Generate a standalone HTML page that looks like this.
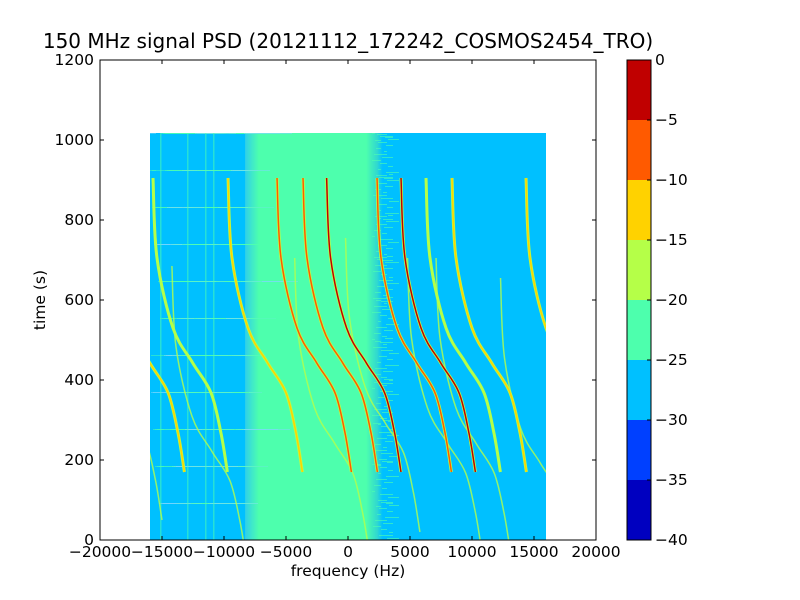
<!DOCTYPE html>
<html><head><meta charset="utf-8"><style>
html,body{margin:0;background:#fff;overflow:hidden;width:800px;height:600px;}
svg{display:block;font-family:"DejaVu Sans","Liberation Sans",sans-serif;}
</style></head><body>
<svg id="c" width="800" height="600" viewBox="0 0 800 600">
<text x="348" y="48" font-size="20" text-anchor="middle">150 MHz signal PSD (20121112_172242_COSMOS2454_TRO)</text>
<defs>
<clipPath id="dc"><rect x="150" y="133" width="396" height="407"/></clipPath>
<linearGradient id="band" x1="0" x2="1" y1="0" y2="0">
<stop offset="0" stop-color="#30d0e8"/>
<stop offset="0.10" stop-color="#4dffad"/>
<stop offset="0.88" stop-color="#4dffad"/>
<stop offset="0.96" stop-color="#30d8d0"/>
<stop offset="1" stop-color="#00c0ff"/>
</linearGradient>
</defs>
<g id="data" clip-path="url(#dc)"></g>
<g id="axes"></g>
</svg>
<script>
// ---- data ----
const xTicks=[-20000,-15000,-10000,-5000,0,5000,10000,15000,20000];
const yTicks=[0,200,400,600,800,1000,1200];
const cbLevels=[-40,-35,-30,-25,-20,-15,-10,-5,0];
const cbColors=["#0000c0","#0040ff","#00c0ff","#4dffad","#b5ff48","#ffd200","#ff5a00","#c00000"];
const dataFreqRange=[-16000,16000];
const dataTimeRange=[0,1018];
const bandFreqRange=[-8300,2800];
// shared track shape: frequency offset (Hz) vs time (s)
const profileDf=[0,320,1610,3220,4680,5480,6000];
const profileTime=[905,705,530,442,368,268,170];
const trackTopFreq=[-19190,-15726,-9677,-5725,-3629,-1725,2339,4274,6290,8387,14355];
const trackLevel=[-15,-18,-15,-10,-10,-5,-10,-5,-18,-15,-15];
const faintTopFreq=[-21000,-14200,-4300,-200,4800,7100,12300];
const faintShift=[-120,-220,-200,-150,-200,-200,-250];
const faintLevel=[-20,-20,-18,-18,-20,-20,-20];

// ---- axes functions ----
const X=f=>100+(f+20000)/40000*496;
const Y=t=>540-t/1200*480;
const CY=v=>540-(v+40)/40*480;
const NS="http://www.w3.org/2000/svg";
function mk(tag,attrs,parent){const e=document.createElementNS(NS,tag);for(const k in attrs)e.setAttribute(k,attrs[k]);parent.appendChild(e);return e;}
function col(v){for(let i=0;i<8;i++){if(v<cbLevels[i+1])return cbColors[i];}return cbColors[7];}
const g=document.getElementById('data');
const ax=document.getElementById('axes');

let bg=mk('rect',{x:X(dataFreqRange[0]),y:Y(dataTimeRange[1]),width:X(dataFreqRange[1])-X(dataFreqRange[0]),height:Y(0)-Y(dataTimeRange[1]),fill:cbColors[2]},g);


let band=mk('rect',{x:X(bandFreqRange[0]),y:Y(dataTimeRange[1]),width:X(bandFreqRange[1])-X(bandFreqRange[0]),height:Y(0)-Y(dataTimeRange[1]),fill:"url(#band)"},g);


for(let i=0;i<200;i++){
  const y=133+((i*37)%407);
  const x0=150+((i*53)%100);
  const w=6+((i*29)%50);
  const s=mk('rect',{x:x0,y:y,width:w,height:1,fill:(i%3?"#4dffad":"#7fd8ff"),opacity:0.5},g);
  
  
}
for(let i=0;i<160;i++){
  const y=133+((i*41)%407);
  const x0=372+((i*17)%18);
  const w=3+((i*13)%12);
  const s=mk('rect',{x:x0,y:y,width:w,height:1,fill:"#4dffad",opacity:0.6},g);
  
  
}
[160,187,205,213].forEach(px=>{const l=mk('rect',{x:px,y:133,width:1.5,height:407,fill:"#4dffad",opacity:0.5},g);

});

function smooth(f0,shift){
  const p=profileDf.map((df,i)=>[X(f0+df),Y(profileTime[i]+(shift||0))]);
  let d="M"+p[0][0]+","+p[0][1];
  for(let i=0;i<p.length-1;i++){
    const p0=p[Math.max(0,i-1)],p1=p[i],p2=p[i+1],p3=p[Math.min(p.length-1,i+2)];
    const c1=[p1[0]+(p2[0]-p0[0])/6,p1[1]+(p2[1]-p0[1])/6];
    const c2=[p2[0]-(p3[0]-p1[0])/6,p2[1]-(p3[1]-p1[1])/6];
    d+="C"+c1[0].toFixed(1)+","+c1[1].toFixed(1)+" "+c2[0].toFixed(1)+","+c2[1].toFixed(1)+" "+p2[0].toFixed(1)+","+p2[1].toFixed(1);
  }
  return d;
}
faintTopFreq.forEach((f,i)=>{
  const p=mk('path',{d:smooth(f,faintShift[i]),fill:"none",stroke:col(faintLevel[i]),"stroke-width":1.5,opacity:0.8},g);
  
  
});
trackTopFreq.forEach((f,i)=>{
  const o=mk('path',{d:smooth(f,0),fill:"none",stroke:"#b5ff48","stroke-width":3},g);
  
  
  const p=mk('path',{d:smooth(f,0),fill:"none",stroke:col(trackLevel[i]),"stroke-width":1.5},g);
  
  
});

let fr=mk('rect',{x:100,y:60,width:496,height:480,fill:"none",stroke:"#000","stroke-width":1},ax);


xTicks.forEach(v=>{
  const x=X(v);
  mk('line',{x1:x,y1:540,x2:x,y2:536,stroke:"#000"},ax);
  mk('line',{x1:x,y1:60,x2:x,y2:64,stroke:"#000"},ax);
  const t=mk('text',{x:x,y:557,"font-size":15.5,"text-anchor":"middle"},ax);
  t.textContent=(v<0?"\u2212"+(-v):v);
  
  
});
yTicks.forEach(v=>{
  const y=Y(v);
  mk('line',{x1:100,y1:y,x2:104,y2:y,stroke:"#000"},ax);
  mk('line',{x1:596,y1:y,x2:592,y2:y,stroke:"#000"},ax);
  const t=mk('text',{x:94,y:y+5,"font-size":15.5,"text-anchor":"end"},ax);
  t.textContent=v;
  
  
});
let xl=mk('text',{x:348,y:576,"font-size":15.5,"text-anchor":"middle"},ax);
xl.textContent="frequency (Hz)";


let yl=mk('text',{x:45,y:300,"font-size":15.5,"text-anchor":"middle",transform:"rotate(-90 45 300)"},ax);
yl.textContent="time (s)";



for(let i=0;i<cbColors.length;i++){
  const r=mk('rect',{x:627,y:CY(cbLevels[i+1]),width:24,height:CY(cbLevels[i])-CY(cbLevels[i+1]),fill:cbColors[i]},ax);
  
  
}
let cf=mk('rect',{x:627,y:60,width:24,height:480,fill:"none",stroke:"#000"},ax);


cbLevels.forEach(v=>{
  const y=CY(v);
  mk('line',{x1:651,y1:y,x2:647,y2:y,stroke:"#000"},ax);
  const t=mk('text',{x:655,y:y+5,"font-size":15.5},ax);
  t.textContent=(v<0?"\u2212"+(-v):v);
  
  
});
</script>
</body></html>
